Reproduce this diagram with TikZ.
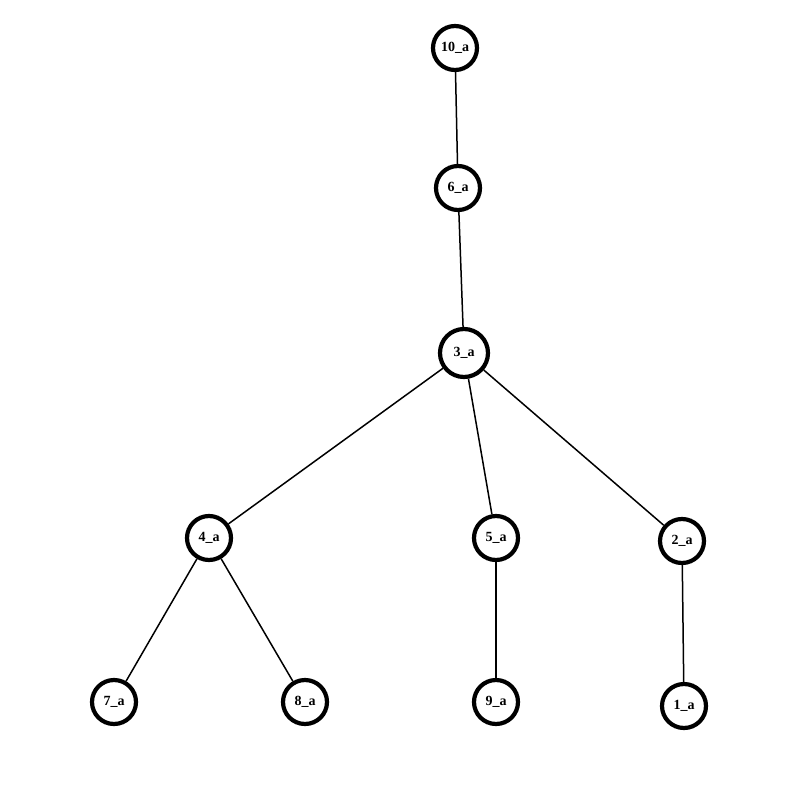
\documentclass[tikz,border=0pt]{standalone}
\usepackage{fontspec}
\setmainfont{Liberation Serif}

\begin{document}
\begin{tikzpicture}[x=1pt,y=-1pt,every node/.style = {draw, circle, line width=4.2pt, minimum size=44pt, inner sep=0pt, font=\fontsize{14}{16}\selectfont\bfseries}, edge/.style={line width=1.5pt}]
\useasboundingbox (0,0) rectangle (800,800);
\node(n10) at (455,48) {10\_a};
\node(n6) at (458,188) {6\_a};
\node[minimum size=48pt](n3) at (464,353) {3\_a};
\node(n4) at (209,538) {4\_a};
\node(n5) at (496,538) {5\_a};
\node(n2) at (682,541) {2\_a};
\node(n7) at (114,702) {7\_a};
\node(n8) at (305,702) {8\_a};
\node(n9) at (496,702) {9\_a};
\node(n1) at (684,706) {1\_a};
\draw[edge] (n10) -- (n6);
\draw[edge] (n6) -- (n3);
\draw[edge] (n3) -- (n4);
\draw[edge] (n3) -- (n5);
\draw[edge] (n3) -- (n2);
\draw[edge] (n4) -- (n7);
\draw[edge] (n4) -- (n8);
\draw[edge] (n5) -- (n9);
\draw[edge] (n2) -- (n1);
\end{tikzpicture}
\end{document}
